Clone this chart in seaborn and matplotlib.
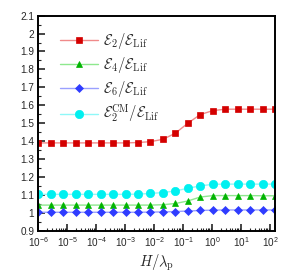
import numpy as np
import matplotlib
matplotlib.use("Agg")
import matplotlib.pyplot as plt
import seaborn as sns
from matplotlib.ticker import LogLocator, MultipleLocator, NullFormatter

# ---------------- DATA ----------------
H_lambda = [1.0e-6, 2.69e-6, 7.24e-6, 1.95e-5, 5.25e-5, 1.41e-4, 3.80e-4,
            1.02e-3, 2.75e-3, 7.41e-3, 2.0e-2, 5.37e-2, 0.145, 0.389,
            1.05, 2.82, 7.59, 20.4, 55.0, 148.0]

E2 = [1.39, 1.39, 1.39, 1.39, 1.39, 1.39, 1.39, 1.39, 1.392, 1.397,
      1.41, 1.444, 1.50, 1.548, 1.57, 1.578, 1.578, 1.578, 1.578, 1.578]
E4 = [1.043, 1.043, 1.043, 1.043, 1.043, 1.043, 1.043, 1.043, 1.043, 1.043,
      1.045, 1.052, 1.066, 1.088, 1.096, 1.096, 1.096, 1.096, 1.095, 1.095]
E6 = [1.003, 1.003, 1.003, 1.003, 1.003, 1.003, 1.003, 1.003, 1.003, 1.004,
      1.005, 1.007, 1.01, 1.013, 1.015, 1.016, 1.016, 1.016, 1.016, 1.016]
E2_CM = [1.103, 1.103, 1.103, 1.103, 1.103, 1.103, 1.103, 1.103, 1.104, 1.108,
         1.113, 1.122, 1.137, 1.15, 1.159, 1.16, 1.16, 1.16, 1.16, 1.16]

labels = [r"$\mathcal{E}_2/\mathcal{E}_{\rm Lif}$",
          r"$\mathcal{E}_4/\mathcal{E}_{\rm Lif}$",
          r"$\mathcal{E}_6/\mathcal{E}_{\rm Lif}$",
          r"$\mathcal{E}_2^{\rm CM}/\mathcal{E}_{\rm Lif}$"]

# ---------------- STYLE ----------------
sns.set_style("ticks")
plt.rcParams["font.family"] = ["Liberation Sans", "DejaVu Sans"]
plt.rcParams["mathtext.fontset"] = "cm"

fig = plt.figure(figsize=(2.91, 2.79), dpi=100)
ax = fig.add_axes([0.132, 0.173, 0.813, 0.771])

series = [
    (E2, "s", 4.3, "#d40000", "#f08a8a"),
    (E4, "^", 4.8, "#00b400", "#8ee88e"),
    (E6, "D", 3.6, "#2f3cff", "#9aa0ff"),
    (E2_CM, "o", 6.0, "#00f0f0", "#8ff8f8"),
]
for (vals, mk, ms, mc, lc), lab in zip(series, labels):
    sns.lineplot(x=H_lambda, y=vals, ax=ax, color=lc, lw=1.0, marker=mk,
                 markersize=ms, markerfacecolor=mc, markeredgecolor=mc,
                 markeredgewidth=0.5, label=lab)

# ---------------- AXES ----------------
ax.set_xscale("log")
ax.set_xlim(H_lambda[0], H_lambda[-1])
ax.set_ylim(0.9, 2.1)
ax.xaxis.set_major_locator(LogLocator(base=10, numticks=20))
ax.xaxis.set_minor_locator(LogLocator(base=10, subs=np.arange(2, 10), numticks=100))
ax.xaxis.set_minor_formatter(NullFormatter())
ax.yaxis.set_minor_locator(MultipleLocator(0.05))
ax.set_yticks(np.arange(0.9, 2.11, 0.1))
ax.set_yticklabels(["0.9", "1", "1.1", "1.2", "1.3", "1.4", "1.5", "1.6",
                    "1.7", "1.8", "1.9", "2", "2.1"])

ax.tick_params(which="major", direction="in", length=5, width=1.2,
               labelsize=7.2, top=False, right=False, pad=3)
ax.tick_params(which="minor", direction="in", length=2.5, width=0.8,
               top=False, right=False)
for sp in ax.spines.values():
    sp.set_linewidth(1.4)
    sp.set_color("black")

ax.set_xlabel(r"$H/\lambda_{\rm p}$", fontsize=10.5, labelpad=3)
ax.set_ylabel("")

ax.legend(loc="upper left", bbox_to_anchor=(0.092, 0.93), frameon=False,
          fontsize=10.5, handlelength=2.6, handletextpad=0.35, labelspacing=0.28,
          borderpad=0, borderaxespad=0)

plt.savefig("out.png", dpi=100)
